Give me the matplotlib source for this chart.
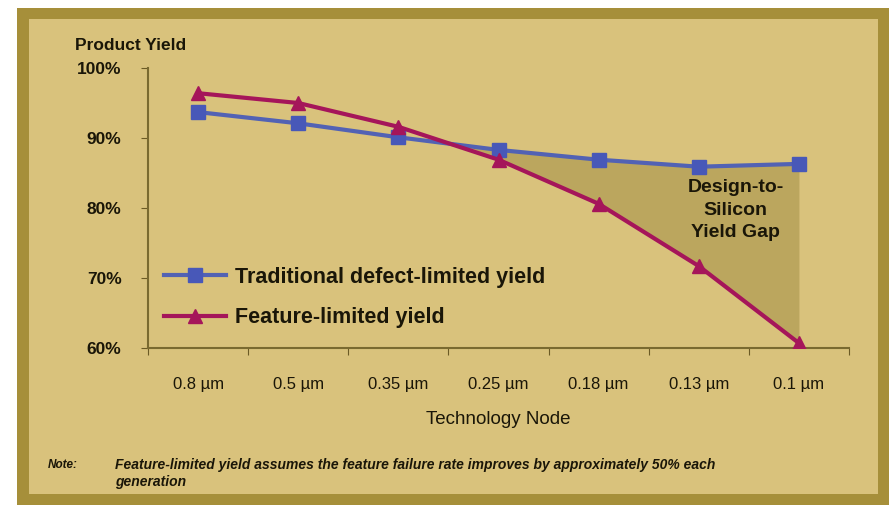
import matplotlib.pyplot as plt
import matplotlib.patches as patches
import numpy as np

plt.rcParams['font.family'] = ['Liberation Sans', 'DejaVu Sans']

nodes = ['0.8 µm', '0.5 µm', '0.35 µm', '0.25 µm', '0.18 µm', '0.13 µm', '0.1 µm']
defect_yield = [93.7, 92.1, 90.1, 88.3, 86.9, 85.9, 86.3]
feature_yield = [96.4, 95.0, 91.6, 86.9, 80.6, 71.7, 60.7]
y_ticks = [60, 70, 80, 90, 100]

bg = '#d9c27c'
frame = '#a68f3a'
gap = '#bba65e'
blue = '#5262b4'
red = '#a5155a'
ink = '#1a1608'

W, H = 889, 507
fig = plt.figure(figsize=(W / 100, H / 100), dpi=100)
fig.patch.set_facecolor('white')

# olive frame with the tan panel inside
fig.patches.append(patches.Rectangle((17 / W, 1 - 505 / H), 1 - 17 / W, (505 - 8) / H,
                                     transform=fig.transFigure, facecolor=frame,
                                     edgecolor='none', zorder=-2))
fig.patches.append(patches.Rectangle((29 / W, 1 - 494 / H), (878 - 29) / W, (494 - 19) / H,
                                     transform=fig.transFigure, facecolor=bg,
                                     edgecolor='none', zorder=-1))

ax = fig.add_axes([148 / W, 1 - 348 / H, (849 - 148) / W, (348 - 68) / H])
ax.set_zorder(2)
ax.set_facecolor('none')

x = np.arange(len(nodes))
d = np.array(defect_yield)
f = np.array(feature_yield)

ax.fill_between(x, d, f, where=f < d, interpolate=True, color=gap, linewidth=0, zorder=1)
ax.plot(x, d, color=blue, lw=3, marker='s', ms=10, mfc='#4858b8', mec='#4858b8',
        label='Traditional defect-limited yield', zorder=3)
ax.plot(x, f, color=red, lw=3, marker='^', ms=10, mfc=red, mec=red,
        label='Feature-limited yield', zorder=4)

ax.set_xlim(-0.5, len(nodes) - 0.5)
ax.set_ylim(60, 100)
ax.set_yticks(y_ticks)
ax.set_yticklabels([f'{v}%' for v in y_ticks], fontsize=12.5, fontweight='bold', color=ink)
ax.set_xticks(np.arange(len(nodes) + 1) - 0.5)
ax.set_xticklabels([])
ax.set_xticks(x, minor=True)
ax.set_xticklabels(nodes, minor=True, fontsize=12, color=ink)
ax.tick_params(axis='x', which='minor', length=0, pad=21)
ax.tick_params(axis='x', which='major', length=5, color='#6b5a25', direction='out')
ax.tick_params(axis='y', length=5, color='#6b5a25', direction='out', pad=14)

for side in ['top', 'right']:
    ax.spines[side].set_visible(False)
for side in ['left', 'bottom']:
    ax.spines[side].set_color('#7a6a30')
    ax.spines[side].set_linewidth(1.5)

leg = ax.legend(loc='center left', bbox_to_anchor=(-0.005, 0.18), frameon=False,
                prop={'size': 15.5, 'weight': 'bold'}, handlelength=2.9,
                handletextpad=0.4, labelspacing=0.9)
for t in leg.get_texts():
    t.set_color(ink)

ax.text(5.37, 79.7, 'Design-to-\nSilicon\nYield Gap', ha='center', va='center',
        fontsize=14, fontweight='bold', color=ink, linespacing=1.45)

fig.text(75 / W, 1 - 45 / H, 'Product Yield', fontsize=12.5, fontweight='bold',
         color=ink, va='center')
fig.text(498 / W, 1 - 420 / H, 'Technology Node', fontsize=13.5, color=ink,
         ha='center', va='center')
fig.text(48 / W, 1 - 465 / H, 'Note:', fontsize=8.5, style='italic', fontweight='bold',
         color=ink, va='center')
fig.text(115 / W, 1 - 465 / H,
         'Feature-limited yield assumes the feature failure rate improves by approximately 50% each',
         fontsize=10, style='italic', fontweight='bold', color=ink, va='center')
fig.text(115 / W, 1 - 482 / H, 'generation', fontsize=10, style='italic',
         fontweight='bold', color=ink, va='center')

fig.savefig('out.png', dpi=100)
